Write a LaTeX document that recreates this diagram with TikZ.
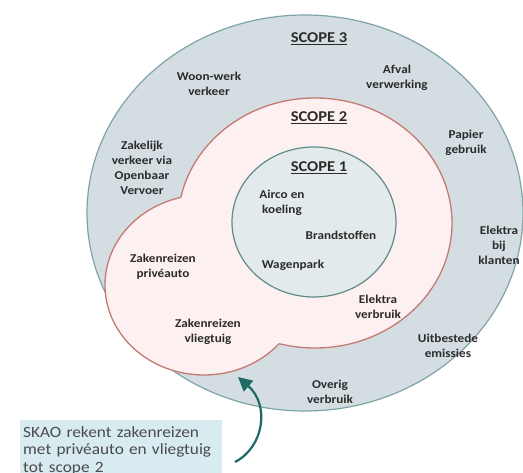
\documentclass[tikz,border=0pt]{standalone}
\usepackage{fontspec}
\setmainfont{Carlito}[FakeStretch=1.1]
\usepackage{tikz}
\usetikzlibrary{arrows.meta,positioning}
\definecolor{ringblue}{HTML}{D4DEE2}
\definecolor{ringline}{HTML}{7FA4A6}
\definecolor{midpink}{HTML}{FCF1F0}
\definecolor{midline}{HTML}{C47A72}
\definecolor{coregray}{HTML}{E3EAEB}
\definecolor{coreline}{HTML}{5F8C8A}
\definecolor{noteblue}{HTML}{D7EBF1}
\definecolor{arrowteal}{HTML}{1E6A66}
\definecolor{labeltext}{HTML}{2B2B2B}

\begin{document}
\begin{tikzpicture}[x=1pt,y=-1pt,
	lbl/.style={font=\bfseries\fontsize{12}{15}\selectfont,text=labeltext,align=center,inner sep=0pt},
	scopelbl/.style={font=\bfseries\fontsize{15}{18}\selectfont,text=labeltext,inner sep=0pt}]
	\useasboundingbox (0,0) rectangle (523,473);
	\fill[white] (0,0) rectangle (523,473);
	\draw[ringline,fill=ringblue,line width=1.2pt] (305,213) ellipse [x radius=218pt,y radius=198pt];
	\fill[midpink] (315,223) ellipse [x radius=137pt,y radius=125pt];
	\fill[midpink] (204,285) ellipse [x radius=99pt,y radius=90pt];
	\begin{scope}[even odd rule]
		\clip (0,0) rectangle (523,473) (204,285) ellipse [x radius=99pt,y radius=90pt];
		\draw[midline,line width=1.3pt] (315,223) ellipse [x radius=137pt,y radius=125pt];
	\end{scope}
	\begin{scope}[even odd rule]
		\clip (0,0) rectangle (523,473) (315,223) ellipse [x radius=137pt,y radius=125pt];
		\draw[midline,line width=1.3pt] (204,285) ellipse [x radius=99pt,y radius=90pt];
	\end{scope}
	\draw[coreline,fill=coregray,line width=1.2pt] (314,222) ellipse [x radius=82pt,y radius=75pt];
	\node(s3) [scopelbl] at (319,39) {\underline{SCOPE 3}};
	\node(s2) [scopelbl] at (319,118) {\underline{SCOPE 2}};
	\node(s1) [scopelbl] at (319,168) {\underline{SCOPE 1}};
	\node(ww) [lbl] at (209,84) {Woon-werk\\verkeer};
	\node(af) [lbl] at (397,78) {Afval\\verwerking};
	\node(pa) [lbl] at (466,143) {Papier\\gebruik};
	\node(ov) [lbl] at (142,168) {Zakelijk\\verkeer via\\Openbaar\\Vervoer};
	\node(ai) [lbl] at (282,203) {Airco en\\koeling};
	\node(br) [lbl] at (341,235) {Brandstoffen};
	\node(wa) [lbl] at (293,265) {Wagenpark};
	\node(za) [lbl] at (163,267) {Zakenreizen\\privéauto};
	\node(ev) [lbl] at (378,307) {Elektra\\verbruik};
	\node(ek) [lbl] at (499,245) {Elektra\\bij\\klanten};
	\node(zv) [lbl] at (208,332) {Zakenreizen\\vliegtuig};
	\node(ue) [lbl] at (448,346) {Uitbestede\\emissies};
	\node(ob) [lbl] at (330,392) {Overig\\verbruik};
	\node(note) [anchor=north west,fill=noteblue,text=labeltext!85,align=left,text width=196pt,inner xsep=3pt,inner ysep=6pt,
		font=\fontsize{15.7}{17.5}\selectfont] at (20,420) {SKAO rekent zakenreizen\\met privéauto en vliegtuig\\tot scope 2};
	\coordinate(tail) at (235,462);
	\coordinate(tip) at (238,377);
	\draw[arrowteal,line width=2.2pt,-{Triangle[length=14pt,width=14pt]}] (tail) .. controls (264,447) and (270,405) .. (tip);
\end{tikzpicture}
\end{document}
